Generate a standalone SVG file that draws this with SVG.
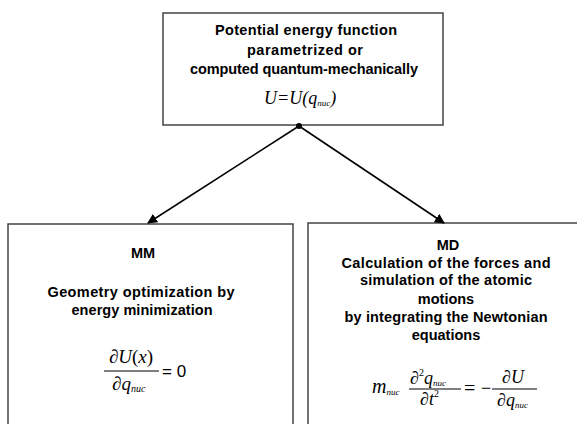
<svg xmlns="http://www.w3.org/2000/svg" width="577" height="424" viewBox="0 0 577 424">
<defs>
<style>
.box{fill:#fff;stroke:#444;stroke-width:1.5}
.t{font-family:"Liberation Sans",Arial,sans-serif;font-weight:bold;font-size:14.5px;fill:#000;text-anchor:middle}
.m{font-family:"Liberation Serif","Times New Roman",serif;font-style:italic;fill:#000}
.n{font-style:normal}
.r{font-family:"Liberation Serif","Times New Roman",serif;fill:#000}
.ln{stroke:#000;stroke-width:1.6;fill:none}
.bar{stroke:#000;stroke-width:1}
</style>
<marker id="ah" viewBox="0 0 10 10" refX="9" refY="5" markerWidth="10" markerHeight="10" markerUnits="userSpaceOnUse" orient="auto">
<path d="M0,0 L10,5 L0,10 z" fill="#000"/>
</marker>
</defs>
<rect width="577" height="424" fill="#fff"/>
<g id="top">
<rect class="box" x="163" y="13" width="280" height="112"/>
<text class="t" x="306" y="35" textLength="182">Potential energy function</text>
<text class="t" x="305" y="55" textLength="116">parametrized or</text>
<text class="t" x="304" y="74" textLength="228">computed quantum-mechanically</text>
<text class="m" x="264" y="104" font-size="18">U=U(q<tspan font-size="9" dy="2">nuc</tspan><tspan dy="-2">)</tspan></text>
</g>
<g id="mm">
<rect class="box" x="8" y="224" width="285" height="210"/>
<text class="t" x="143" y="258">MM</text>
<text class="t" x="141" y="297" textLength="187">Geometry optimization by</text>
<text class="t" x="142" y="315" textLength="141">energy minimization</text>
<text class="m" x="131" y="363" font-size="19" text-anchor="middle"><tspan class="n">∂</tspan>U<tspan class="n">(</tspan>x<tspan class="n">)</tspan></text>
<line class="bar" x1="104" y1="371" x2="159" y2="371"/>
<text class="m" x="112" y="390" font-size="19"><tspan class="n">∂</tspan>q<tspan font-size="10" dy="2">nuc</tspan></text>
<text x="162" y="377" font-family="Liberation Sans,Arial,sans-serif" font-size="17">= 0</text>
</g>
<g id="md">
<rect class="box" x="308" y="223" width="280" height="210"/>
<text class="t" x="448" y="250">MD</text>
<text class="t" x="446" y="268" textLength="209">Calculation of the forces and</text>
<text class="t" x="446" y="285" textLength="172">simulation of the atomic</text>
<text class="t" x="446" y="304">motions</text>
<text class="t" x="446" y="322" textLength="203">by integrating the Newtonian</text>
<text class="t" x="446" y="340">equations</text>
<text class="m" x="372" y="393" font-size="20">m<tspan font-size="9" dy="2">nuc</tspan></text>
<text class="m" x="410" y="384" font-size="18"><tspan class="n">∂</tspan><tspan class="n" font-size="10" dy="-8">2</tspan><tspan dy="8">q</tspan><tspan font-size="9" dy="2">nuc</tspan></text>
<line class="bar" x1="409" y1="389" x2="461" y2="389"/>
<text class="m" x="420" y="405" font-size="18"><tspan class="n">∂</tspan>t<tspan class="n" font-size="10" dy="-8">2</tspan></text>
<text class="r" x="464" y="395" font-size="20">=</text>
<text class="r" x="481" y="394" font-size="18">−</text>
<text class="m" x="502" y="383" font-size="18"><tspan class="n">∂</tspan>U</text>
<line class="bar" x1="492" y1="389" x2="537" y2="389"/>
<text class="m" x="497" y="406" font-size="18"><tspan class="n">∂</tspan>q<tspan font-size="9" dy="2">nuc</tspan></text>
</g>
<g id="connectors">
<circle cx="299" cy="126" r="3" fill="#000"/>
<line class="ln" x1="299" y1="126" x2="148" y2="223" marker-end="url(#ah)"/>
<line class="ln" x1="299" y1="126" x2="444" y2="223" marker-end="url(#ah)"/>
</g>
</svg>
